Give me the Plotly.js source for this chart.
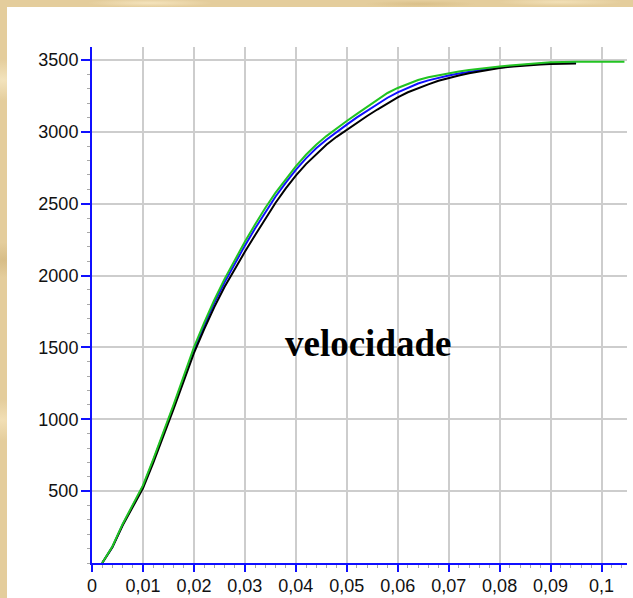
<!DOCTYPE html>
<html>
<head>
<meta charset="utf-8">
<script src="https://cdn.plot.ly/plotly-3.0.1.min.js"></script>
<style>
  html, body { margin: 0; padding: 0; }
  body {
    width: 633px; height: 598px; overflow: hidden; position: relative;
    background-color: #e4cd9c;
    background-image:
      radial-gradient(ellipse 60px 30px at 3px 80px, rgba(255,245,215,0.55), rgba(255,245,215,0) 70%),
      radial-gradient(ellipse 50px 25px at 4px 260px, rgba(200,170,110,0.45), rgba(200,170,110,0) 70%),
      radial-gradient(ellipse 70px 30px at 2px 420px, rgba(255,240,205,0.5), rgba(255,240,205,0) 70%),
      radial-gradient(ellipse 90px 6px at 150px 3px, rgba(255,242,210,0.6), rgba(255,242,210,0) 70%),
      radial-gradient(ellipse 80px 5px at 420px 4px, rgba(205,175,115,0.45), rgba(205,175,115,0) 70%),
      radial-gradient(ellipse 90px 6px at 560px 2px, rgba(255,242,210,0.5), rgba(255,242,210,0) 70%);
  }
  #sheet { position: absolute; left: 7px; top: 7px; width: 626px; height: 591px; background: #ffffff; }
  #chart { position: absolute; left: 0; top: 0; width: 633px; height: 598px; }
</style>
</head>
<body>
<div id="sheet"></div>
<div id="chart"></div>
<script>
// time axis (s)
const tGreen = [0.002, 0.004, 0.006, 0.008, 0.010, 0.012, 0.014, 0.016, 0.018, 0.020,
                0.022, 0.024, 0.026, 0.028, 0.030, 0.032, 0.034, 0.036, 0.038, 0.040,
                0.042, 0.044, 0.046, 0.048, 0.050, 0.052, 0.054, 0.056, 0.058, 0.060,
                0.062, 0.064, 0.066, 0.068, 0.070, 0.072, 0.074, 0.076, 0.078, 0.080,
                0.082, 0.084, 0.086, 0.088, 0.090, 0.095, 0.100, 0.1045];
const vGreen = [0, 115, 270, 400, 540, 720, 905, 1100, 1300, 1500,
                1670, 1830, 1975, 2110, 2235, 2355, 2470, 2575, 2670, 2760,
                2840, 2910, 2970, 3025, 3075, 3125, 3175, 3225, 3270, 3305,
                3335, 3360, 3380, 3395, 3408, 3420, 3430, 3440, 3448, 3455,
                3462, 3468, 3474, 3480, 3484, 3487, 3488, 3488];

const tRef = [0.002, 0.004, 0.006, 0.008, 0.010, 0.012, 0.014, 0.016, 0.018, 0.020,
              0.022, 0.024, 0.026, 0.028, 0.030, 0.032, 0.034, 0.036, 0.038, 0.040,
              0.042, 0.044, 0.046, 0.048, 0.050, 0.052, 0.054, 0.056, 0.058, 0.060,
              0.062, 0.064, 0.066, 0.068, 0.070, 0.072, 0.074, 0.076, 0.078, 0.080,
              0.082, 0.084, 0.086, 0.088, 0.090, 0.092, 0.095];
const vBlue = [0, 112, 266, 394, 532, 710, 895, 1088, 1285, 1485,
               1652, 1810, 1952, 2085, 2208, 2327, 2442, 2548, 2645, 2735,
               2815, 2885, 2945, 3000, 3050, 3100, 3145, 3192, 3237, 3275,
               3308, 3336, 3358, 3377, 3392, 3406, 3418, 3429, 3439, 3448,
               3456, 3463, 3469, 3474, 3477, 3479, 3479];
const vBlack = [0, 110, 260, 385, 520, 695, 880, 1070, 1265, 1460,
                1625, 1780, 1920, 2045, 2165, 2280, 2395, 2505, 2605, 2695,
                2775, 2845, 2910, 2965, 3015, 3065, 3110, 3155, 3200, 3240,
                3275, 3305, 3330, 3355, 3375, 3392, 3407, 3420, 3433, 3444,
                3452, 3459, 3464, 3468, 3472, 3474, 3475];

const xTickVals = [0, 0.01, 0.02, 0.03, 0.04, 0.05, 0.06, 0.07, 0.08, 0.09, 0.1];
const xTickText = ['0', '0,01', '0,02', '0,03', '0,04', '0,05', '0,06', '0,07', '0,08', '0,09', '0,1'];
const yTickVals = [500, 1000, 1500, 2000, 2500, 3000, 3500];
const yTickText = ['500', '1000', '1500', '2000', '2500', '3000', '3500'];

const label = 'velocidade';

const tickFont = { family: '"Liberation Sans", Arial, sans-serif', size: 18, color: '#111111' };

const traces = [
  { x: tRef, y: vBlue, mode: 'lines', line: { color: '#1010ff', width: 2 }, hoverinfo: 'skip' },
  { x: tRef, y: vBlack, mode: 'lines', line: { color: '#000000', width: 2 }, hoverinfo: 'skip' },
  { x: tGreen, y: vGreen, mode: 'lines', line: { color: '#22c422', width: 2 }, hoverinfo: 'skip' }
];

const layout = {
  width: 633, height: 598,
  margin: { l: 92, r: 6, t: 47, b: 35 },
  paper_bgcolor: 'rgba(0,0,0,0)',
  plot_bgcolor: 'rgba(0,0,0,0)',
  showlegend: false,
  xaxis: {
    range: [0, 0.105], fixedrange: true, zeroline: false,
    tickmode: 'array', tickvals: xTickVals, ticktext: xTickText,
    ticks: 'outside', ticklen: 7, tickwidth: 2, tickcolor: '#1010ff',
    ticklabelstandoff: -2,
    showline: true, linecolor: '#1010ff', linewidth: 2,
    showgrid: true, gridcolor: '#cdcdcd', gridwidth: 2,
    tickfont: tickFont,
    minor: { tickmode: 'linear', tick0: 0, dtick: 0.002, ticks: 'outside', ticklen: 3, tickwidth: 1, tickcolor: '#a8a8a8', showgrid: false }
  },
  yaxis: {
    range: [0, 3590], fixedrange: true, zeroline: false,
    tickmode: 'array', tickvals: yTickVals, ticktext: yTickText,
    ticks: 'outside', ticklen: 9, tickwidth: 2, tickcolor: '#1010ff',
    ticklabelstandoff: -1,
    showline: true, linecolor: '#1010ff', linewidth: 2,
    showgrid: true, gridcolor: '#cdcdcd', gridwidth: 2,
    tickfont: tickFont,
    minor: { tickmode: 'linear', tick0: 0, dtick: 100, ticks: 'outside', ticklen: 3, tickwidth: 1, tickcolor: '#a8a8a8', showgrid: false }
  },
  annotations: [{
    x: 0.0542, y: 1525, xref: 'x', yref: 'y',
    text: '<b>' + label + '</b>', showarrow: false,
    xanchor: 'center', yanchor: 'middle',
    font: { family: '"Liberation Serif", "Times New Roman", serif', size: 37, color: '#000000' }
  }]
};

Plotly.newPlot('chart', traces, layout, { displayModeBar: false, staticPlot: true });
</script>
</body>
</html>
